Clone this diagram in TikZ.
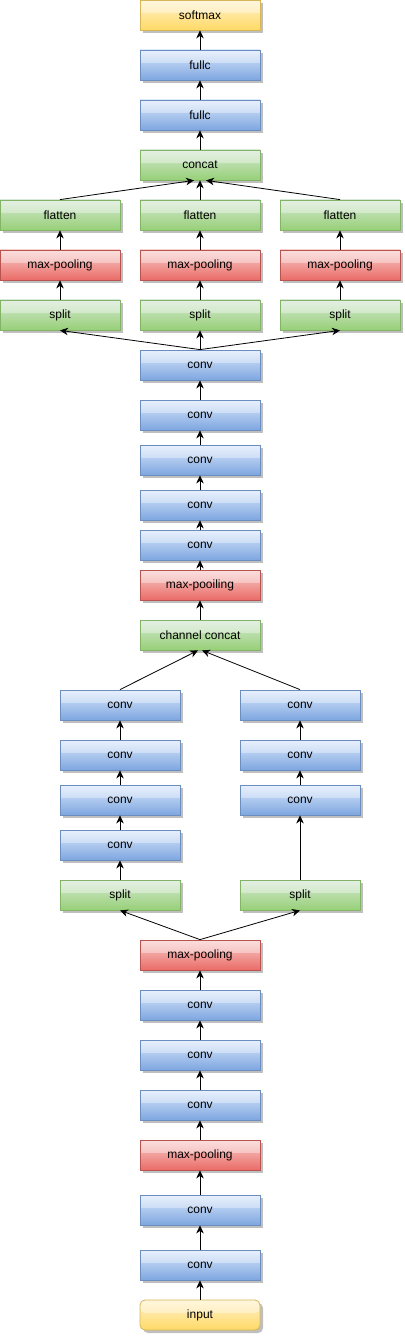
\documentclass[tikz,border=0pt]{standalone}
\usepackage{fontspec}
\setmainfont{Liberation Sans}
\usetikzlibrary{shadows,arrows.meta}
\definecolor{bfill}{HTML}{DAE8FC}\definecolor{bgrad}{HTML}{7EA6E0}\definecolor{bstroke}{HTML}{6C8EBF}
\definecolor{gfill}{HTML}{D5E8D4}\definecolor{ggrad}{HTML}{97D077}\definecolor{gstroke}{HTML}{82B366}
\definecolor{rfill}{HTML}{F8CECC}\definecolor{rgrad}{HTML}{EA6B66}\definecolor{rstroke}{HTML}{B85450}
\definecolor{yfill}{HTML}{FFF2CC}\definecolor{ygrad}{HTML}{FFD966}\definecolor{ystroke}{HTML}{D6B656}
\tikzset{
 blk/.style={draw, line width=0.8pt, minimum width=120pt, minimum height=30pt, inner sep=0pt,
   font=\fontsize{12}{14}\selectfont,
   drop shadow={shadow xshift=3pt, shadow yshift=-3pt, opacity=0.25, fill=black},
   path picture={\fill[white,opacity=0.35] (path picture bounding box.north west) rectangle ([yshift=-13pt]path picture bounding box.north east);}},
 bluebox/.style={blk, draw=bstroke, top color=bfill, bottom color=bgrad},
 greenbox/.style={blk, draw=gstroke, top color=gfill, bottom color=ggrad},
 redbox/.style={blk, draw=rstroke, top color=rfill, bottom color=rgrad},
 yellowbox/.style={blk, draw=ystroke, top color=yfill, bottom color=ygrad},
 arr/.style={-{Stealth[length=8pt,width=7.5pt,inset=2.5pt]}, line width=0.8pt, black}
}
\begin{document}
\begin{tikzpicture}[x=1pt,y=-1pt]
\useasboundingbox (0,0) rectangle (404,1337);
% top section
\node[yellowbox] (soft) at (200,15) {softmax};
\node[bluebox] (fc1) at (200,65) {fullc};
\node[bluebox] (fc2) at (200,115) {fullc};
\node[greenbox] (cat) at (200,165) {concat};
\foreach \n/\x in {L/60,M/200,R/340}{
  \node[greenbox] (fl\n) at (\x,215) {flatten};
  \node[redbox] (mp\n) at (\x,265) {max-pooling};
  \node[greenbox] (sp\n) at (\x,315) {split};
}
\node[bluebox] (c1) at (200,365) {conv};
\node[bluebox] (c2) at (200,415) {conv};
\node[bluebox] (c3) at (200,460) {conv};
\node[bluebox] (c4) at (200,505) {conv};
\node[bluebox] (c5) at (200,545) {conv};
\node[redbox] (mpp) at (200,585) {max-pooiling};
\node[greenbox] (cc) at (200,635) {channel concat};
% two branches
\node[bluebox] (L1) at (120,705) {conv};
\node[bluebox] (L2) at (120,755) {conv};
\node[bluebox] (L3) at (120,800) {conv};
\node[bluebox] (L4) at (120,845) {conv};
\node[greenbox] (Ls) at (120,895) {split};
\node[bluebox] (R1) at (300,705) {conv};
\node[bluebox] (R2) at (300,755) {conv};
\node[bluebox] (R3) at (300,800) {conv};
\node[greenbox] (Rs) at (300,895) {split};
% bottom section
\node[redbox] (mp2) at (200,955) {max-pooling};
\node[bluebox] (d1) at (200,1005) {conv};
\node[bluebox] (d2) at (200,1055) {conv};
\node[bluebox] (d3) at (200,1105) {conv};
\node[redbox] (mp3) at (200,1155) {max-pooling};
\node[bluebox] (e1) at (200,1210) {conv};
\node[bluebox] (e2) at (200,1265) {conv};
\node[yellowbox, rounded corners=5pt] (inp) at (200,1315) {input};
% edges
\draw[arr] (inp) -- (e2);
\draw[arr] (e2) -- (e1);
\draw[arr] (e1) -- (mp3);
\draw[arr] (mp3) -- (d3);
\draw[arr] (d3) -- (d2);
\draw[arr] (d2) -- (d1);
\draw[arr] (d1) -- (mp2);
\draw[arr] (mp2.north) -- (Ls.south);
\draw[arr] (mp2.north) -- (Rs.south);
\draw[arr] (Ls) -- (L4);
\draw[arr] (L4) -- (L3);
\draw[arr] (L3) -- (L2);
\draw[arr] (L2) -- (L1);
\draw[arr] (Rs) -- (R3);
\draw[arr] (R3) -- (R2);
\draw[arr] (R2) -- (R1);
\draw[arr] (L1.north) -- ([xshift=-2pt]cc.south);
\draw[arr] (R1.north) -- ([xshift=2pt]cc.south);
\draw[arr] (cc) -- (mpp);
\draw[arr] (mpp) -- (c5);
\draw[arr] (c5) -- (c4);
\draw[arr] (c4) -- (c3);
\draw[arr] (c3) -- (c2);
\draw[arr] (c2) -- (c1);
\draw[arr] (c1.north) -- (spL.south);
\draw[arr] (c1.north) -- (spM.south);
\draw[arr] (c1.north) -- (spR.south);
\foreach \n in {L,M,R}{
  \draw[arr] (sp\n) -- (mp\n);
  \draw[arr] (mp\n) -- (fl\n);
}
\draw[arr] (flL.north) -- ([xshift=-6pt]cat.south);
\draw[arr] (flM.north) -- (cat.south);
\draw[arr] (flR.north) -- ([xshift=6pt]cat.south);
\draw[arr] (cat) -- (fc2);
\draw[arr] (fc2) -- (fc1);
\draw[arr] (fc1) -- (soft);
\end{tikzpicture}
\end{document}
